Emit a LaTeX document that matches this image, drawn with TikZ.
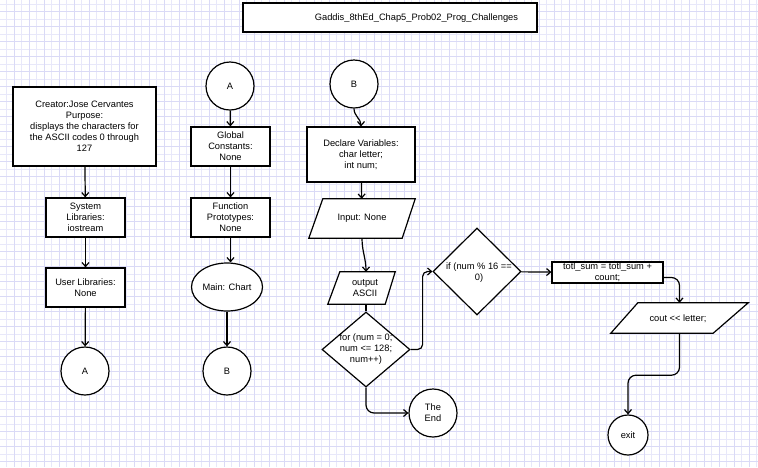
\documentclass[tikz,border=0pt]{standalone}
\usepackage{fontspec}
\setmainfont{Liberation Sans}
\usepackage{tikz}
\usetikzlibrary{shapes.geometric}
\usetikzlibrary{positioning}
\usetikzlibrary{arrows.meta}
\definecolor{gridc}{RGB}{232,232,250}
\definecolor{gridd}{RGB}{218,218,246}
\tikzset{
  every node/.style={font=\fontsize{9.3}{11}\selectfont, align=center},
  box/.style={draw, fill=white, line width=1.2pt, inner sep=0pt},
  io/.style={inner sep=0pt},
  shp/.style={draw, fill=white, line width=1.2pt, line join=miter},
  dec/.style={draw, fill=white, line width=1.2pt, diamond, inner sep=0pt},
  term/.style={draw, fill=white, line width=1.2pt, circle, inner sep=0pt},
  conn/.style={line width=1.2pt, -{Straight Barb[length=4pt,width=7pt]}},
}
\begin{document}
\begin{tikzpicture}[x=1pt,y=-1pt]
\useasboundingbox (0,0) rectangle (758,467);
\fill[white] (0,0) rectangle (758,467);
\foreach \i in {0,...,100} \draw[gridc, line width=0.8pt] ({6.7+7.5*\i},0) -- ({6.7+7.5*\i},467);
\foreach \i in {0,...,62} \draw[gridc, line width=0.8pt] (0,{4.2+7.5*\i}) -- (758,{4.2+7.5*\i});
\foreach \i in {0,...,50} \draw[gridd, line width=0.8pt] ({14.2+15*\i},0) -- ({14.2+15*\i},467);
\foreach \i in {0,...,31} \draw[gridd, line width=0.8pt] (0,{11.7+15*\i}) -- (758,{11.7+15*\i});
%
\node[box, minimum width=294, minimum height=29] (title) at (390,17.5) {};
\node (titleT) at (416.5,18) {Gaddis\_8thEd\_Chap5\_Prob02\_Prog\_Challenges};
%
\node[box, minimum width=143, minimum height=79] (creator) at (84.5,126.5) {Creator:Jose Cervantes\\Purpose:\\displays the characters for\\the ASCII codes 0 through\\127};
\node[box, minimum width=79, minimum height=39] (sys) at (85.5,217.5) {System\\Libraries:\\iostream};
\node[box, minimum width=79, minimum height=39] (usr) at (85.5,287.5) {User Libraries:\\None};
\node[term, minimum size=48] (A1) at (85,371) {A};
\draw[conn] (creator) -- (sys);
\draw[conn] (sys) -- (usr);
\draw[conn] (usr) -- (A1);
%
\node[term, minimum size=48] (A2) at (230,86) {A};
\node[box, minimum width=79, minimum height=39] (glob) at (230.5,146.5) {Global\\Constants:\\None};
\node[box, minimum width=79, minimum height=39] (func) at (230.5,217.5) {Function\\Prototypes:\\None};
\node[draw, fill=white, line width=1.2pt, ellipse, inner sep=0pt, minimum width=71, minimum height=48] (main) at (227,287) {Main: Chart};
\node[term, minimum size=48] (B1) at (227,371) {B};
\draw[conn] (A2) -- (glob);
\draw[conn] (glob) -- (func);
\draw[conn] (func.south) -- (func.south |- main.north);
\draw[conn] (main) -- (B1);
%
\node[term, minimum size=48] (B2) at (354,84) {B};
\node[box, minimum width=108, minimum height=55] (decl) at (361,154.5) {Declare Variables:\\char letter;\\int num;};
\node[io, minimum width=106, minimum height=39] (input) at (362,218.5) {};
\draw[shp] ([xshift=14pt]input.north west) -- (input.north east) -- ([xshift=-13pt]input.south east) -- (input.south west) -- cycle;
\node (inputT) at (input) {Input: None};
\node[io, minimum width=67, minimum height=32] (out) at (361.5,288) {};
\draw[shp] ([xshift=12pt]out.north west) -- (out.north east) -- ([xshift=-10pt]out.south east) -- (out.south west) -- cycle;
\node (outT) at (365,288) {output\\ASCII};
\node[dec, minimum width=88, minimum height=75] (forD) at (366,349.5) {};
\node (forT) at (forD) {for (num = 0;\\num <= 128;\\num++)};
\node[dec, minimum width=88, minimum height=87] (ifD) at (477,271.5) {};
\node (ifT) at (479,272.5) {if (num \% 16 ==\\0)};
\node[box, minimum width=111, minimum height=21] (totl) at (607.5,272.5) {totl\_sum = totl\_sum +\\count;};
\node[io, minimum width=137, minimum height=30] (cout) at (679.5,318) {};
\draw[shp] ([xshift=27pt]cout.north west) -- (cout.north east) -- ([xshift=-35pt]cout.south east) -- (cout.south west) -- cycle;
\node (coutT) at (678,319) {cout <{}< letter;};
\node[term, minimum size=40] (exit) at (628,435) {exit};
\node[term, minimum size=48] (theEnd) at (433,413) {The\\End};
\draw[conn] (B2.south) to[out=-90,in=90] (decl.north);
\draw[conn] (decl) -- (input);
\draw[conn] (input.south) to[out=-90,in=90] ([xshift=4.5pt]out.north);
\draw[line width=1.2pt] (forD.north |- out.south) -- (forD.north);
\draw[conn, rounded corners=5] (forD.east) -- ++(12,0) |- (ifD.west);
\draw[conn] (ifD) -- (totl);
\draw[conn, rounded corners=8] ([yshift=-5pt]totl.east) -| (cout.north);
\draw[conn, rounded corners=8] (cout.south) -- ++(0,42) -| (exit.north);
\draw[conn, rounded corners=8] (forD.south) |- (theEnd.west);
\end{tikzpicture}
\end{document}
